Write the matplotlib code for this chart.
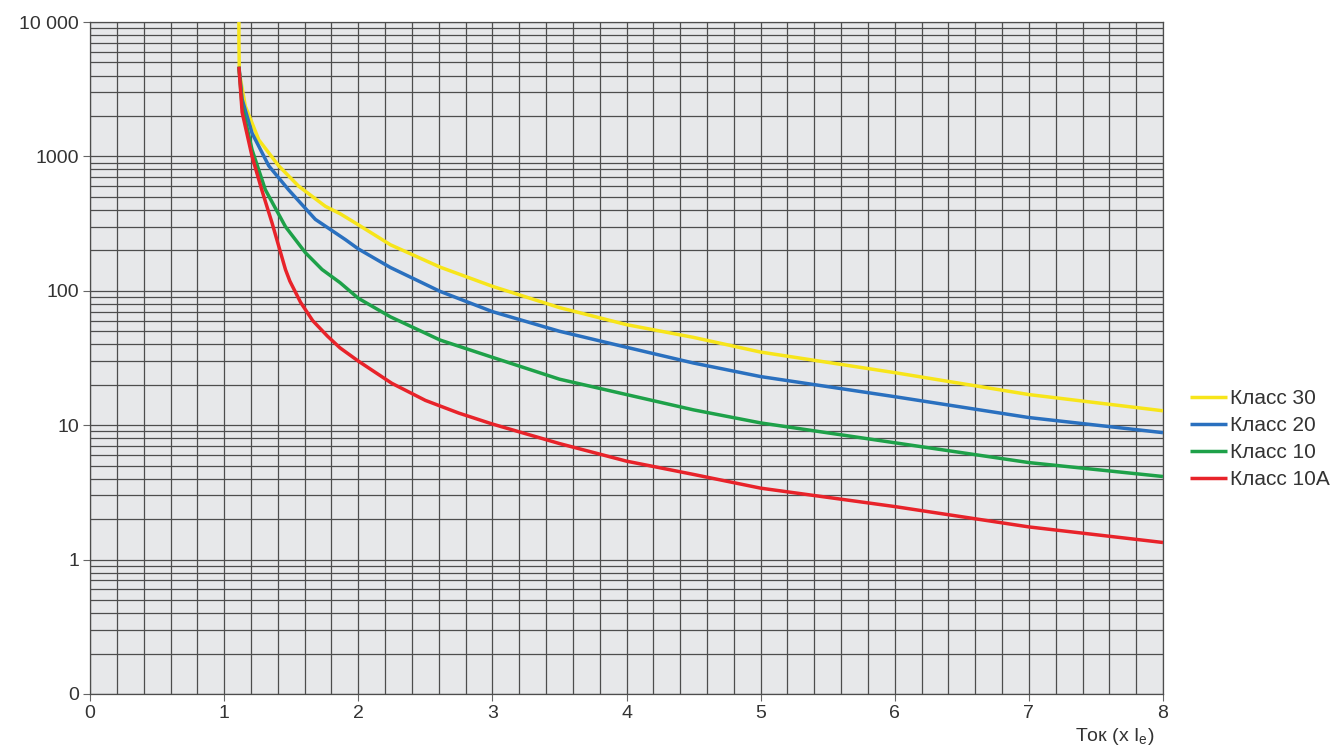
import numpy as np
import matplotlib.pyplot as plt
from matplotlib.ticker import FixedLocator, LogLocator, NullFormatter

plt.rcParams['font.family'] = ['Liberation Sans', 'DejaVu Sans']
plt.rcParams['mathtext.fontset'] = 'custom'
plt.rcParams['mathtext.rm'] = 'Liberation Sans'
plt.rcParams['mathtext.it'] = 'Liberation Sans'

# Trip curves: current (x Ie) vs. time (s)
x_30 = [1.11, 1.11, 1.113, 1.158, 1.258, 1.407, 1.556, 1.755, 1.864, 2.0, 2.24, 2.61, 3.0, 3.5, 4.0, 4.5, 5.0, 6.0, 7.0, 8.0]
t_30 = [10000, 7300, 4200, 2360, 1330, 850, 600, 425, 375, 310, 220, 150, 108, 75, 56, 45, 35, 24.6, 16.9, 12.8]

x_20 = [1.11, 1.134, 1.208, 1.333, 1.48, 1.68, 1.905, 2.0, 2.24, 2.61, 3.0, 3.5, 4.0, 4.5, 5.0, 6.0, 7.0, 8.0]
t_20 = [4650, 2660, 1490, 850, 565, 340, 240, 205, 149, 99, 70, 50, 38, 29, 23, 16.3, 11.4, 8.8]

x_10 = [1.11, 1.134, 1.208, 1.307, 1.457, 1.606, 1.73, 1.864, 2.0, 2.24, 2.61, 3.0, 3.5, 4.0, 4.5, 5.0, 6.0, 7.0, 8.0]
t_10 = [4650, 2360, 1120, 565, 300, 192, 144, 115, 88, 64, 43, 32, 22, 16.9, 13, 10.4, 7.4, 5.27, 4.15]

x_10a = [1.11, 1.134, 1.208, 1.28, 1.357, 1.457, 1.49, 1.57, 1.66, 1.77, 1.864, 2.0, 2.25, 2.5, 2.75, 3.0, 3.5, 4.0, 4.5, 5.0, 6.0, 7.0, 8.0]
t_10a = [4650, 2130, 1000, 565, 320, 144, 118, 82, 60, 46, 37.6, 30, 20.5, 15.3, 12.3, 10.2, 7.3, 5.4, 4.3, 3.4, 2.48, 1.75, 1.34]

labels = ['Класс 30', 'Класс 20', 'Класс 10', 'Класс 10A']
colors = ['#f7e51a', '#2a70bf', '#1ea149', '#e8232a']

y_ticks = [0.1, 1, 10, 100, 1000, 10000]
y_tick_labels = ['0', '1', '10', '100', '1000', '10 000']
x_ticks = [0, 1, 2, 3, 4, 5, 6, 7, 8]

fig = plt.figure(figsize=(13.36, 7.47), dpi=100)
ax = fig.add_axes([0.0674, 0.0710, 0.8031, 0.8995])
ax.set_facecolor('#e7e8ea')

for xs, ts, lab, col in zip([x_30, x_20, x_10, x_10a], [t_30, t_20, t_10, t_10a], labels, colors):
    ax.plot(xs, ts, color=col, lw=2.5, label=lab, solid_capstyle='butt',
            solid_joinstyle='round', zorder=3)

ax.set_yscale('log')
ax.set_xlim(0, 8)
ax.set_ylim(0.1, 10000)

ax.yaxis.set_major_locator(FixedLocator(y_ticks))
ax.set_yticklabels(y_tick_labels)
ax.yaxis.set_minor_locator(LogLocator(base=10, subs=np.arange(2, 10)))
ax.yaxis.set_minor_formatter(NullFormatter())
ax.set_xticks(x_ticks)
ax.xaxis.set_minor_locator(FixedLocator(np.arange(0, 8.01, 0.2)))

ax.grid(True, which='both', color='#4d4d4d', lw=0.9, zorder=1)
ax.set_axisbelow(True)
for s in ax.spines.values():
    s.set_color('#4d4d4d')
    s.set_linewidth(0.9)

ax.tick_params(which='major', length=5, width=0.8, color='#666666', labelsize=14,
               labelcolor='#333333', pad=3)
ax.tick_params(which='minor', length=0)

ax.text(0.992, -0.063, 'Ток (x I$_\\mathregular{e}$)', transform=ax.transAxes,
        ha='right', va='center', fontsize=14, color='#333333')

fig.legend(loc='center left', bbox_to_anchor=(0.877, 0.412), frameon=False,
           fontsize=15, handlelength=1.75, handletextpad=0.15, labelspacing=0.38,
           labelcolor='#333333')

fig.savefig('out.png', dpi=100, facecolor='white')
